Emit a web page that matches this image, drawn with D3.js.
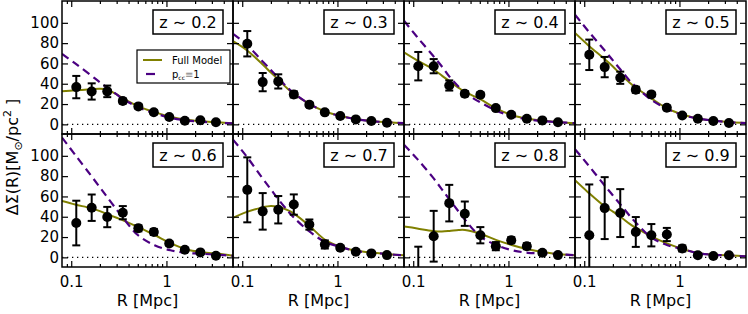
<!DOCTYPE html>
<html>
<head>
<meta charset="UTF-8">
<title></title>
<style>
    body { margin: 0; background: #fff; }
    svg text { font-family: 'DejaVu Sans', sans-serif; fill: #000; }
    .tick line { stroke: #000; stroke-width: 1.2; }
    .domain { display: none; }
</style>
</head>
<body>
<svg id="chart" width="748" height="314"></svg>
<script src="https://d3js.org/d3.v7.min.js"></script>
<script>
    /// data

    // radial bins [Mpc]
    var R = [0.113, 0.164, 0.239, 0.348, 0.507, 0.737, 1.07, 1.56, 2.27, 3.31];
    var modelR = [0.08, 0.11, 0.16, 0.2, 0.24, 0.3, 0.35, 0.5, 0.75, 1.1, 1.6, 2.4, 3.5, 5];
    var zLabels = ["0.2", "0.3", "0.4", "0.5", "0.6", "0.7", "0.8", "0.9"];

    var obsZ02 = [36.7, 32.4, 32.5, 23, 17.7, 12, 7.2, 3.5, 4, 2];
    var errZ02 = [11, 8, 5.7, 2.5, 2, 2, 1.5, 1.5, 1, 1];
    var obsZ03 = [79.4, 41.6, 42.3, 29.5, 19.4, 11.8, 8.2, 4.9, 3.3, 1.6];
    var errZ03 = [12.5, 9, 7, 3, 2, 2, 1.5, 1.5, 1, 1];
    var obsZ04 = [57.3, 57.3, 38.3, 30.2, 29.2, 16, 9.5, 5.6, 3.9, 2];
    var errZ04 = [14, 7, 5, 2.5, 2, 2, 1.5, 1.5, 1, 1];
    var obsZ05 = [68.5, 56.4, 45.9, 34.1, 29.5, 16.4, 8.8, 5.6, 3.3, 1.3];
    var errZ05 = [15, 10, 6, 3, 2, 2, 1.5, 1.5, 1, 1];
    var obsZ06 = [33.8, 48.9, 39.7, 44, 28.6, 25, 13.7, 7.5, 4.9, 1.6];
    var errZ06 = [22, 13, 10, 6.5, 3, 3, 2, 1.5, 1, 1];
    var obsZ07 = [66.5, 45.3, 46.9, 52, 32.3, 12.7, 9.4, 5.5, 3.9, 2.2];
    var errZ07 = [32, 18, 13.5, 10, 5, 4, 2, 1.5, 1, 1];
    var obsZ08 = [-22, 20.8, 53.4, 43, 21.8, 11, 16.9, 11, 4.5, 2.2];
    var errZ08 = [32.5, 25, 18, 12, 8, 4, 3, 3, 1.5, 1];
    var obsZ09 = [21.8, 48.5, 43.6, 25, 21.8, 22.5, 8.8, 2, 1.3, 2];
    var errZ09 = [50, 30.5, 23.6, 14.7, 11, 6.5, 3, 1.5, 1, 1];

    // full model (olive) and p_cc = 1 model (dashed) at modelR
    var fullZ02 = [32.5, 33.5, 34.5, 35, 34, 29.5, 25.5, 18, 12, 7.5, 4.5, 3, 2, 1.2];
    var pccZ02  = [69.5, 60, 48.5, 41.5, 36, 29.5, 25, 17, 11, 6.5, 4, 2.5, 1.5, 1];
    var fullZ03 = [82, 73.5, 60, 51, 44, 35, 30, 20.5, 12.5, 8, 5, 3, 2, 1.2];
    var pccZ03  = [89, 79, 63, 53.5, 45.5, 36, 30.5, 20.5, 12.5, 8, 5, 3, 2, 1.2];
    var fullZ04 = [71, 63, 54.5, 48, 42.5, 36, 32, 25, 15.5, 9, 5.5, 3.5, 2, 1.2];
    var pccZ04  = [102, 86, 68, 57, 47, 37, 31, 22, 13.5, 8, 5, 3, 2, 1.2];
    var fullZ05 = [90, 78, 65, 57, 49.5, 41, 36, 26, 15.5, 9.5, 5.5, 3.5, 2, 1.3];
    var pccZ05  = [108, 92, 74, 63, 54, 43, 37, 24.5, 15, 9, 5.5, 3.5, 2, 1.3];
    var fullZ06 = [55.5, 52, 48.5, 45.5, 42.5, 39, 36.5, 30, 22, 14, 8, 5, 3.5, 1.6];
    var pccZ06  = [118, 101, 81, 69, 59, 47, 39, 22, 12, 7, 4.5, 3.5, 2.5, 1.6];
    var fullZ07 = [39, 44.5, 49, 50.5, 49.5, 46.5, 43, 31.5, 17, 10, 6.5, 4.5, 3, 2];
    var pccZ07  = [116, 100, 79, 67, 57, 46, 39, 26, 15, 10, 6, 4.5, 3, 2];
    var fullZ08 = [30.5, 28.5, 26, 25.5, 26, 27, 27, 23.5, 17, 12, 8, 5, 3, 2];
    var pccZ08  = [111, 97, 79, 67, 57, 45, 37, 21, 12, 7, 4.5, 4, 3, 2];
    var fullZ09 = [76, 64, 51, 45, 40, 33, 29, 21, 13.5, 8, 4, 2.5, 1.8, 1];
    var pccZ09  = [106.5, 91, 72, 61, 52, 41, 34, 20, 12, 8, 4, 2.5, 1.8, 1];

    var xMajor = [0.1, 1];
    var xMinor = [0.09, 0.2, 0.3, 0.4, 0.5, 0.6, 0.7, 0.8, 0.9, 2, 3, 4];
    var yTicks = [0, 20, 40, 60, 80, 100];

    var panels = [
        { obs: obsZ02, err: errZ02, full: fullZ02, pcc: pccZ02 },
        { obs: obsZ03, err: errZ03, full: fullZ03, pcc: pccZ03 },
        { obs: obsZ04, err: errZ04, full: fullZ04, pcc: pccZ04 },
        { obs: obsZ05, err: errZ05, full: fullZ05, pcc: pccZ05 },
        { obs: obsZ06, err: errZ06, full: fullZ06, pcc: pccZ06 },
        { obs: obsZ07, err: errZ07, full: fullZ07, pcc: pccZ07 },
        { obs: obsZ08, err: errZ08, full: fullZ08, pcc: pccZ08 },
        { obs: obsZ09, err: errZ09, full: fullZ09, pcc: pccZ09 }
    ];

    /// layout
    var marginLeft = 62, marginTop = 1,
        pw = 171, ph = 133;
    var colFull = "#808000", colPcc = "#4B0082";

    var svg = d3.select("#chart");

    var x = d3.scaleLog().domain([0.08, 5]).range([0, pw]);
    var y = d3.scaleLinear().domain([-9.5, 121.5]).range([ph, 0]);

    var line = d3.line()
        .x(function(d) { return x(d[0]); })
        .y(function(d) { return y(d[1]); })
        .curve(d3.curveCatmullRom.alpha(0.5));

    panels.forEach(function(p, i) {
        var col = i % 4, row = Math.floor(i / 4);
        var g = svg.append("g")
            .attr("transform", "translate(" + (marginLeft + col * pw) + "," + (marginTop + row * ph) + ")");

        var clipId = "clip" + i;
        g.append("clipPath").attr("id", clipId)
            .append("rect").attr("width", pw).attr("height", ph);

        var inner = g.append("g").attr("clip-path", "url(#" + clipId + ")");

        // zero line
        inner.append("line")
            .attr("x1", 0).attr("x2", pw)
            .attr("y1", y(0)).attr("y2", y(0))
            .attr("stroke", "#000")
            .attr("stroke-width", 1.3)
            .attr("stroke-dasharray", "1.3,3.7");

        // models
        inner.append("path")
            .datum(modelR.map(function(r, k) { return [r, p.full[k]]; }))
            .attr("d", line)
            .attr("fill", "none")
            .attr("stroke", colFull)
            .attr("stroke-width", 2);

        inner.append("path")
            .datum(modelR.map(function(r, k) { return [r, p.pcc[k]]; }))
            .attr("d", line)
            .attr("fill", "none")
            .attr("stroke", colPcc)
            .attr("stroke-width", 2.2)
            .attr("stroke-dasharray", "8,5");

        // error bars + points
        var pts = R.map(function(r, k) { return { r: r, v: p.obs[k], e: p.err[k] }; });
        var eb = inner.append("g").selectAll("g")
            .data(pts).enter().append("g")
            .attr("stroke", "#000").attr("stroke-width", 2);
        eb.append("line")
            .attr("x1", function(d) { return x(d.r); })
            .attr("x2", function(d) { return x(d.r); })
            .attr("y1", function(d) { return y(d.v - d.e); })
            .attr("y2", function(d) { return y(d.v + d.e); });
        [-1, 1].forEach(function(s) {
            eb.append("line")
                .attr("x1", function(d) { return x(d.r) - 4; })
                .attr("x2", function(d) { return x(d.r) + 4; })
                .attr("y1", function(d) { return y(d.v + s * d.e); })
                .attr("y2", function(d) { return y(d.v + s * d.e); });
        });
        inner.append("g").selectAll("circle")
            .data(pts).enter().append("circle")
            .attr("cx", function(d) { return x(d.r); })
            .attr("cy", function(d) { return y(d.v); })
            .attr("r", 5)
            .attr("fill", "#000");

        // axes, ticks pointing inward
        var fmt = function(d) { return d === 1 ? "1" : "0.1"; };
        g.append("g").attr("transform", "translate(0," + ph + ")")
            .call(d3.axisBottom(x).tickValues(xMajor).tickSize(-6).tickSizeOuter(0).tickPadding(9)
                .tickFormat(row === 1 ? fmt : ""));
        g.append("g").attr("transform", "translate(0," + ph + ")")
            .call(d3.axisBottom(x).tickValues(xMinor).tickSize(-3).tickFormat(""));
        g.append("g")
            .call(d3.axisTop(x).tickValues(xMajor).tickSize(-6).tickFormat(""));
        g.append("g")
            .call(d3.axisTop(x).tickValues(xMinor).tickSize(-3).tickFormat(""));
        g.append("g")
            .call(d3.axisLeft(y).tickValues(yTicks).tickSize(-6).tickPadding(3)
                .tickFormat(col === 0 ? d3.format("d") : ""));
        g.append("g").attr("transform", "translate(" + pw + ",0)")
            .call(d3.axisRight(y).tickValues(yTicks).tickSize(-6).tickFormat(""));

        g.selectAll(".tick text")
            .style("font-family", "'DejaVu Sans', sans-serif")
            .style("font-size", "15px");

        // frame
        g.append("rect")
            .attr("width", pw).attr("height", ph)
            .attr("fill", "none")
            .attr("stroke", "#000")
            .attr("stroke-width", 1.5);

        // redshift label
        var lb = g.append("g").attr("transform", "translate(" + (pw - 80) + ",9)");
        lb.append("rect")
            .attr("width", 70).attr("height", 24)
            .attr("fill", "#fff")
            .attr("stroke", "#000")
            .attr("stroke-width", 1.5);
        lb.append("text")
            .attr("x", 35).attr("y", 18)
            .attr("text-anchor", "middle")
            .style("font-size", "16px")
            .text("z \u223C " + zLabels[i]);

        // x label
        if (row === 1) {
            g.append("text")
                .attr("x", pw / 2).attr("y", ph + 39)
                .attr("text-anchor", "middle")
                .style("font-size", "16px")
                .text("R [Mpc]");
        }

        // legend
        if (i === 0) {
            var lg = g.append("g").attr("transform", "translate(75,49)");
            lg.append("rect")
                .attr("width", 93).attr("height", 33)
                .attr("fill", "#fff")
                .attr("stroke", "#000")
                .attr("stroke-width", 1.2);
            lg.append("line")
                .attr("x1", 6).attr("x2", 25).attr("y1", 10).attr("y2", 10)
                .attr("stroke", colFull).attr("stroke-width", 2);
            lg.append("line")
                .attr("x1", 9).attr("x2", 18).attr("y1", 24).attr("y2", 24)
                .attr("stroke", colPcc).attr("stroke-width", 2.2);
            lg.append("text")
                .attr("x", 35).attr("y", 13.5)
                .style("font-size", "10px")
                .text("Full Model");
            var t2 = lg.append("text")
                .attr("x", 35).attr("y", 28)
                .style("font-size", "10px");
            t2.append("tspan").text("p");
            t2.append("tspan").attr("dy", 2).style("font-size", "6px").text("cc");
            t2.append("tspan").attr("dy", -2).attr("fill", "#888").text("\u2261");
            t2.append("tspan").text("1");
        }
    });

    // y label
    var yl = svg.append("text")
        .attr("transform", "translate(18,157) rotate(-90)")
        .attr("text-anchor", "middle")
        .style("font-size", "16px");
    yl.append("tspan").text("\u0394\u03A3(R)[M");
    yl.append("tspan").attr("dy", 4).style("font-size", "11px").text("\u2299");
    yl.append("tspan").attr("dy", -4).text("/pc");
    yl.append("tspan").attr("dy", -7).style("font-size", "11px").text("2");
    yl.append("tspan").attr("dy", 7).text(" ]");
</script>
</body>
</html>
